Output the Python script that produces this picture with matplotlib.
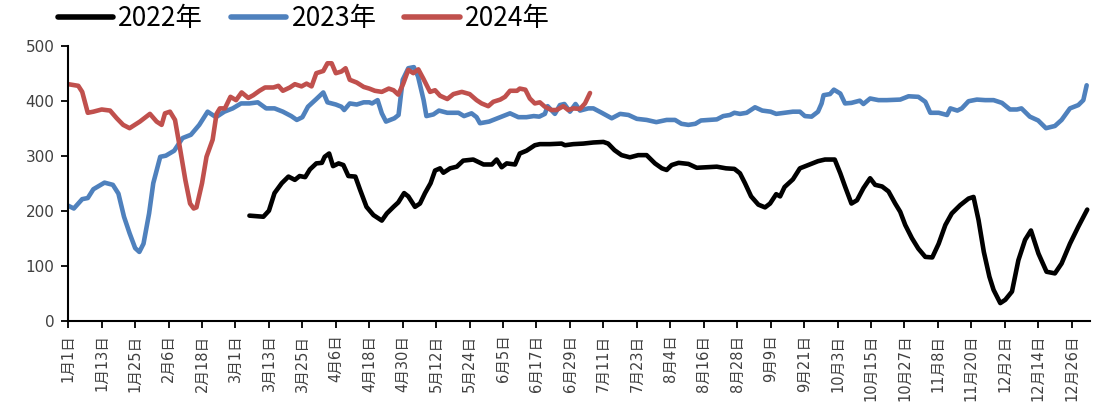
import matplotlib
matplotlib.use("Agg")
import matplotlib.pyplot as plt

plt.rcParams["font.family"] = ["Noto Sans CJK SC", "DejaVu Sans"]

# x = day offset from 1月1日
days_2022 = [65, 70, 72, 74, 76.6, 79, 81.3, 83, 85, 86.7, 89, 91, 92, 93.6, 95, 97, 98.7,
             100.5, 103, 104.7, 107, 109.5, 112.5, 114.3, 116.7, 118.4, 120.5, 122, 124.4,
             126.2, 128, 130, 131.6, 133.4, 134.6, 137, 139.4, 141.7, 145.3, 149, 152, 153.7,
             155.5, 157.3, 160.3, 162, 164.4, 167.4, 169.2, 172.8, 177, 178.2, 181.2, 184.8,
             188.4, 192, 193.7, 196, 198.5, 201.5, 204.5, 207.5, 210.5, 213, 214.7, 216.5,
             219, 222.5, 225.5, 229, 232.7, 236, 239, 241, 242.8, 245, 247.6, 250, 251.8, 254,
             255.4, 257, 260, 262.5, 265.5, 269, 271.5, 274, 275, 277, 278.7, 281, 283, 285.3,
             287.7, 289.5, 292, 294.3, 296.7, 298.5, 300.3, 302.7, 305, 307.5, 310, 312.3,
             314.7, 317, 320, 323, 324.8, 326.6, 328.5, 330.5, 332, 334.4, 336.2, 338.6, 340.9,
             343.3, 345.4, 348.1, 351, 354, 356.4, 359.4, 362.4, 365.6]
vals_2022 = [191, 189, 200, 232, 250, 262, 256, 263, 261, 275, 286, 287, 298, 304, 281, 286, 283,
             263, 262, 238, 207, 192, 182, 195, 207, 215, 232, 226, 207,
             213, 232, 250, 273, 277, 269, 277, 280, 291, 293, 284, 284, 293,
             279, 286, 284, 304, 309, 319, 321, 321, 322, 319, 321, 322,
             324, 325, 322, 310, 301, 297, 301, 301, 286, 277, 274, 283,
             287, 285, 278, 279, 280, 277, 276, 268, 250, 226, 211, 206, 213, 230,
             226, 243, 257, 277, 283, 290, 293, 293, 293, 268, 244, 213, 219, 241,
             259, 247, 244, 235, 213, 198, 174, 150, 131, 116, 115, 140,
             174, 195, 210, 222, 225, 183, 125, 80, 56, 32, 38, 53, 110,
             147, 164, 122, 89, 86, 104, 140, 171, 202]

days_2023 = [0, 2, 5, 7, 9, 13, 16, 18, 20, 22, 24, 25.5, 27, 29, 30.5, 33, 35, 38, 41, 44, 47,
             50, 53, 56, 59, 62, 65, 68, 71, 74, 77, 80, 82, 84, 86, 89, 91.5, 93, 96, 98, 99,
             101, 103.5, 106, 108, 109, 111, 112.5, 114, 117, 118.5, 120, 122, 124, 125.5,
             127.5, 128.5, 131, 133, 136, 140, 142, 144.7, 146.5, 147.7, 151, 154, 156, 158.5,
             161.5, 164.4, 167, 169, 171, 172, 174.6, 176.4, 178, 180, 182, 183.6, 186.6,
             188.4, 191.4, 195, 198, 201, 204, 207.5, 211, 214.7, 217.7, 220, 222.5, 225, 227,
             230, 232.7, 235, 237.4, 239, 241, 243.4, 246.4, 249, 252, 254, 257, 260, 262.5,
             264.3, 266.7, 269, 270.3, 271, 273.3, 274.7, 277, 278.7, 281, 284, 285.3, 287.7,
             290.7, 293.7, 298.5, 301.5, 305, 307.5, 309.3, 312.3, 315.3, 316.5, 319, 320.6,
             323, 326, 329, 332, 335, 337.9, 340.4, 342, 345, 348, 350.8, 354, 356.4, 359.4,
             362.4, 364.2, 365.4]
vals_2023 = [209, 204, 221, 223, 239, 251, 247, 231, 189, 159, 132, 125, 140, 195, 250, 298, 300,
             309, 332, 338, 356, 380, 370, 380, 386, 395, 395, 397, 386, 386, 380, 372, 365,
             370, 389, 403, 415, 397, 393, 389, 383, 395, 393, 397, 397, 395, 401, 377, 362,
             368, 374, 438, 459, 461, 444, 401, 372, 375, 382, 378, 378, 372, 377, 370, 359,
             362, 368, 372, 377, 370, 370, 372, 371, 376, 390, 376, 392, 394, 380, 394, 382,
             386, 386, 378, 368, 376, 374, 367, 365, 361, 365, 365, 358, 356, 358, 364, 365,
             366, 372, 374, 378, 376, 378, 388, 382, 380, 376, 378, 380, 380, 372, 371, 380,
             395, 410, 412, 420, 413, 395, 396, 400, 394, 404, 401, 401, 402, 408, 407, 398,
             378, 378, 374, 386, 382, 386, 399, 402, 401, 401, 396, 384, 384, 386, 371, 364,
             350, 354, 365, 386, 392, 401, 428]

days_2024 = [0, 3.6, 5, 7, 9, 12, 15, 17.4, 19.7, 22, 25.7, 29.3, 31.7, 33.5, 34.7, 36.5, 38.3,
             40, 42, 43.7, 45, 46, 48, 49.6, 51.8, 53.2, 54.4, 56.2, 58.2, 60.2, 62.2, 64.6,
             66.4, 68.6, 70.6, 73.6, 75.4, 77, 79.5, 81.3, 83.7, 85.5, 87.3, 89, 91.5, 93, 94.5,
             96, 98, 99.5, 101, 103.5, 106, 108, 110, 112.5, 115, 116.7, 118.4, 120.2, 122,
             123.8, 125.6, 127.4, 129.8, 131.6, 133.4, 136, 138.2, 141.2, 144, 146.5, 148.3,
             150.7, 152.5, 155, 156.7, 158.5, 161, 162, 164, 165.6, 167.4, 169.2, 171, 173.4,
             175.2, 177.6, 179.4, 181.2, 183.6, 185.4, 187.2]
vals_2024 = [430, 427, 416, 378, 380, 384, 382, 368, 356, 350, 362, 376, 362, 356, 377, 380, 365,
             316, 256, 213, 204, 206, 250, 298, 329, 376, 386, 386, 407, 401, 415, 405,
             410, 418, 424, 424, 427, 418, 424, 430, 426, 431, 426, 450, 454, 468, 468,
             450, 453, 459, 438, 433, 425, 422, 418, 416, 422, 419, 411, 431, 456,
             450, 457, 440, 416, 419, 409, 403, 412, 416, 412, 401, 395,
             390, 398, 402, 407, 418, 418, 422, 420, 404, 395, 397, 389, 383,
             383, 390, 383, 386, 385, 395, 414]

series_names = ["2022年", "2023年", "2024年"]
tick_days = list(range(0, 361, 12))
tick_labels = ["1月1日", "1月13日", "1月25日", "2月6日", "2月18日", "3月1日", "3月13日",
               "3月25日", "4月6日", "4月18日", "4月30日", "5月12日", "5月24日", "6月5日",
               "6月17日", "6月29日", "7月11日", "7月23日", "8月4日", "8月16日", "8月28日",
               "9月9日", "9月21日", "10月3日", "10月15日", "10月27日", "11月8日",
               "11月20日", "12月2日", "12月14日", "12月26日"]

fig = plt.figure(figsize=(11.1, 4.13), dpi=100)
ax = fig.add_axes([0.0615, 0.2235, 0.9205, 0.6659])

style = dict(linewidth=3.3, solid_capstyle="round", solid_joinstyle="round")
ax.plot(days_2022, vals_2022, color="#000000", label=series_names[0], **style)
ax.plot(days_2023, vals_2023, color="#4F81BD", label=series_names[1], **style)
ax.plot(days_2024, vals_2024, color="#C0504D", label=series_names[2], **style)

ax.set_xlim(0, 366.6)
ax.set_ylim(0, 500)
ax.set_yticks(range(0, 501, 100))
ax.set_xticks(tick_days)
ax.set_xticklabels(tick_labels, rotation=90, va="top", ha="center",
                   family=["DejaVu Sans", "Noto Sans CJK SC"], fontsize=10.5, color="#404040")
ax.set_yticks(range(0, 501, 100))
ax.set_yticklabels([str(v) for v in range(0, 501, 100)], family="DejaVu Sans",
                   fontsize=11, color="#404040")

for side in ("top", "right"):
    ax.spines[side].set_visible(False)
for side in ("left", "bottom"):
    ax.spines[side].set_linewidth(1.5)
    ax.spines[side].set_color("black")
ax.tick_params(axis="both", direction="out", length=5, width=1.3, colors="black")
ax.tick_params(axis="y", labelcolor="#404040", pad=5)
ax.tick_params(axis="x", labelcolor="#404040", pad=5)

leg = fig.legend(loc="center left", bbox_to_anchor=(0.052, 0.955), ncol=3, frameon=False,
                 fontsize=19, handlelength=2.1, handletextpad=0.2, columnspacing=1.05,
                 borderpad=0, borderaxespad=0)
for ln in leg.get_lines():
    ln.set_linewidth(4)

fig.savefig("out.png", dpi=100)
